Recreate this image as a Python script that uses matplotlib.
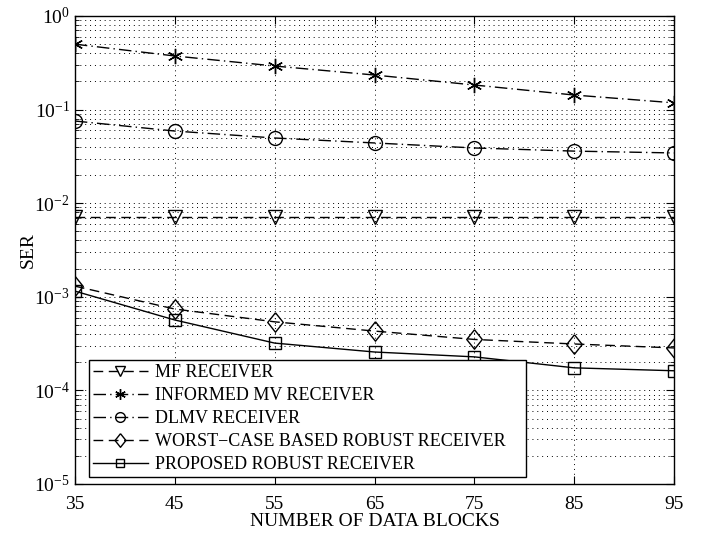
import matplotlib
matplotlib.use("Agg")
import matplotlib.pyplot as plt
from matplotlib.ticker import LogLocator, NullFormatter

plt.rcParams["font.family"] = ["Liberation Serif", "DejaVu Serif"]
plt.rcParams["mathtext.fontset"] = "stix"

blocks = [35, 45, 55, 65, 75, 85, 95]
ser_mf = [7.1e-3, 7.1e-3, 7.1e-3, 7.1e-3, 7.1e-3, 7.1e-3, 7.1e-3]
ser_informed = [0.50, 0.374, 0.292, 0.234, 0.183, 0.143, 0.118]
ser_dlmv = [0.0755, 0.059, 0.0497, 0.044, 0.0389, 0.036, 0.0344]
ser_worst = [1.3e-3, 7.4e-4, 5.4e-4, 4.3e-4, 3.5e-4, 3.13e-4, 2.84e-4]
ser_proposed = [1.15e-3, 5.65e-4, 3.2e-4, 2.57e-4, 2.28e-4, 1.74e-4, 1.62e-4]

labels = ["MF RECEIVER", "INFORMED MV RECEIVER", "DLMV RECEIVER",
          "WORST\u2212CASE BASED ROBUST RECEIVER", "PROPOSED ROBUST RECEIVER"]

# matlab-style diamond, a bit wider than matplotlib's thin 'd'
diamond = [(0, 1), (0.8, 0), (0, -1), (-0.8, 0), (0, 1)]

fig = plt.figure(figsize=(7.06, 5.33), dpi=100)
ax = fig.add_axes([0.106, 0.092, 0.849, 0.878])

mk = dict(color="k", markerfacecolor="none", markeredgecolor="k",
          linewidth=1.0, markeredgewidth=1.0)
ax.semilogy(blocks, ser_mf, linestyle=(0, (7, 4)), marker="v", markersize=10,
            label=labels[0], **mk)
ax.semilogy(blocks, ser_informed, linestyle=(0, (9, 3, 1, 3)), marker=(6, 2, 0),
            markersize=11, label=labels[1], **mk)
ax.semilogy(blocks, ser_dlmv, linestyle=(0, (9, 3, 1, 3)), marker="o",
            markersize=10, label=labels[2], **mk)
ax.semilogy(blocks, ser_worst, linestyle=(0, (7, 4)), marker=diamond,
            markersize=14, label=labels[3], **mk)
ax.semilogy(blocks, ser_proposed, linestyle="-", marker="s", markersize=9,
            label=labels[4], **mk)

ax.set_xlim(35, 95)
ax.set_ylim(1e-5, 1)
ax.set_xticks(blocks)
ax.yaxis.set_major_locator(LogLocator(base=10, numticks=10))
ax.yaxis.set_minor_locator(LogLocator(base=10, subs=range(2, 10), numticks=10))
ax.yaxis.set_minor_formatter(NullFormatter())
ax.tick_params(which="both", direction="in", top=True, right=True, labelsize=14)
ax.tick_params(which="major", length=6)
ax.tick_params(which="minor", length=3)
ax.tick_params(axis="x", pad=9)
ax.grid(True, which="major", linestyle=(0, (1, 4)), color="k", linewidth=0.7)
ax.grid(True, which="minor", axis="y", linestyle=(0, (1, 4)), color="k", linewidth=0.7)
for s in ax.spines.values():
    s.set_linewidth(1.0)

ax.set_xlabel("NUMBER OF DATA BLOCKS", fontsize=14, labelpad=0)
ax.set_ylabel("SER", fontsize=14)
ax.yaxis.set_label_coords(-0.063, 0.5)

leg = ax.legend(loc="lower left", bbox_to_anchor=(0.0234, 0.014, 0.7295, 0.2),
                mode="expand", fontsize=13,
                frameon=True, fancybox=False, edgecolor="k", framealpha=1,
                handlelength=3.0, handletextpad=0.4, labelspacing=0.33,
                borderpad=0.25, borderaxespad=0, markerscale=0.7)
leg.get_frame().set_linewidth(1.0)

fig.savefig("out.png", dpi=100)
